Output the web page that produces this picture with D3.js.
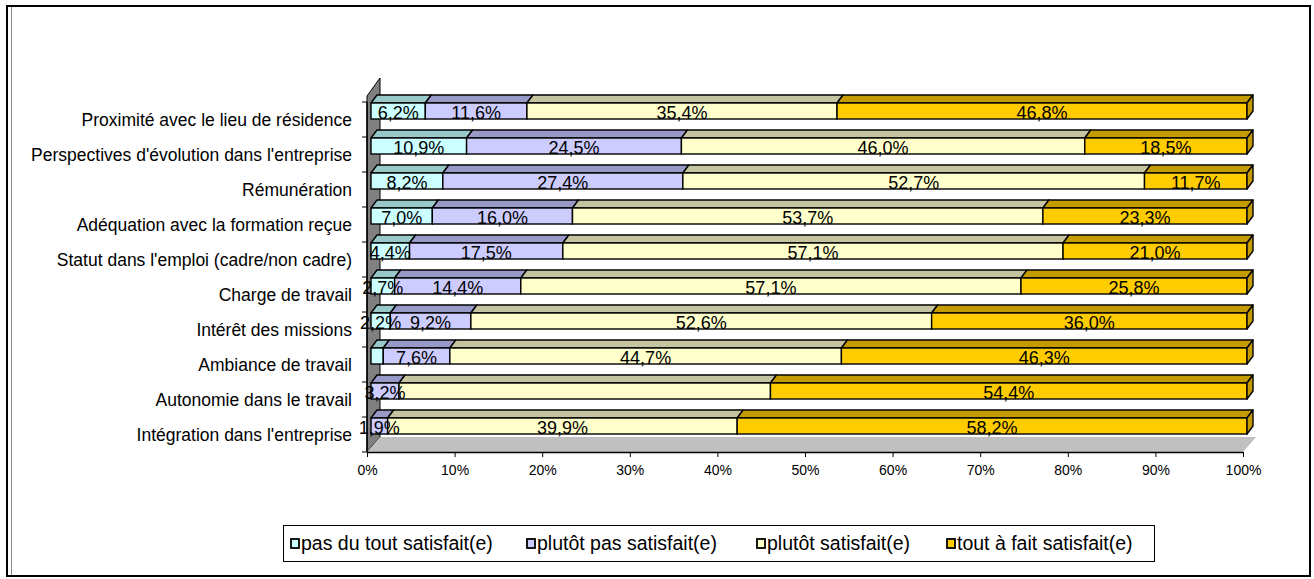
<!DOCTYPE html>
<html>
<head>
<meta charset="utf-8">
<script src="https://cdnjs.cloudflare.com/ajax/libs/d3/7.8.5/d3.min.js"></script>
<style>
  body { margin: 0; background: #fff; }
  svg text { font-family: "Liberation Sans", Arial, sans-serif; fill: #000; }
</style>
</head>
<body>
<script>
// categories, top to bottom
const categories = [
  "Proximité avec le lieu de résidence",
  "Perspectives d'évolution dans l'entreprise",
  "Rémunération",
  "Adéquation avec la formation reçue",
  "Statut dans l'emploi (cadre/non cadre)",
  "Charge de travail",
  "Intérêt des missions",
  "Ambiance de travail",
  "Autonomie dans le travail",
  "Intégration dans l'entreprise"
];
const seriesNames = ["pas du tout satisfait(e)", "plutôt pas satisfait(e)", "plutôt satisfait(e)", "tout à fait satisfait(e)"];

// percentages per series
const pasDuTout = [6.2, 10.9, 8.2, 7.0, 4.4, 2.7, 2.2, 1.4, 0, 0];
const plutotPas = [11.6, 24.5, 27.4, 16.0, 17.5, 14.4, 9.2, 7.6, 3.2, 1.9];
const plutotSat = [35.4, 46.0, 52.7, 53.7, 57.1, 57.1, 52.6, 44.7, 42.4, 39.9];
const toutAFait = [46.8, 18.5, 11.7, 23.3, 21.0, 25.8, 36.0, 46.3, 54.4, 58.2];

// labels that the original does not show: [category index, series index]
const hiddenLabels = [[7, 0], [8, 2]];

const xTicks = [0, 0.1, 0.2, 0.3, 0.4, 0.5, 0.6, 0.7, 0.8, 0.9, 1];

const frontColors = ["#CCFFFF", "#CCCCFF", "#FFFFCC", "#FFCC00"];
const topColors = ["#99C8C8", "#9999C8", "#C4C4A0", "#C49C00"];

const W = 1314, H = 579;
const svg = d3.select("body").append("svg").attr("width", W).attr("height", H);

// chart frame
svg.append("rect").attr("x", 7).attr("y", 6).attr("width", 1303).attr("height", 570)
  .attr("fill", "#fff").attr("stroke", "#000").attr("stroke-width", 2);
svg.append("line").attr("x1", 11.5).attr("x2", 11.5).attr("y1", 7).attr("y2", 575)
  .attr("stroke", "#888").attr("stroke-width", 1);

const table = categories.map((c, i) => ({
  cat: c, s0: pasDuTout[i], s1: plutotPas[i], s2: plutotSat[i], s3: toutAFait[i]
}));
const stack = d3.stack().keys(["s0", "s1", "s2", "s3"]).offset(d3.stackOffsetExpand);
const stacked = stack(table);

const x = d3.scaleLinear().domain([0, 1]).range([367, 1243]);
const y = d3.scaleBand().domain(categories).range([102, 452]);

const wallD = { x: 13, y: -15 };   // depth of wall / floor
const barD = { x: 6, y: -8 };      // depth of bars
const barOff = 4;                  // bars sit slightly behind the front axis
const barTop = 1, barH = 16;

// side wall
const wx = x(0);
svg.append("polygon")
  .attr("points", [[wx, 452], [wx, 96], [wx + wallD.x, 78], [wx + wallD.x, 452 + wallD.y]].join(" "))
  .attr("fill", "#808080").attr("stroke", "#000").attr("stroke-width", 1);

// floor
svg.append("polygon")
  .attr("points", [[x(0), 452], [x(1), 452], [x(1) + wallD.x, 452 + wallD.y], [x(0) + wallD.x, 452 + wallD.y]].join(" "))
  .attr("fill", "#C0C0C0");

// bars
const g = svg.append("g");
stacked.forEach((layer, si) => {
  layer.forEach((d, ci) => {
    if (d[1] - d[0] <= 0) return;
    const x0 = x(d[0]) + barOff, x1 = x(d[1]) + barOff;
    const t = y(categories[ci]) + barTop, b = t + barH;
    g.append("polygon")
      .attr("points", [[x0, t], [x0 + barD.x, t + barD.y], [x1 + barD.x, t + barD.y], [x1, t]].join(" "))
      .attr("fill", topColors[si]).attr("stroke", "#000").attr("stroke-width", 1.4).attr("stroke-linejoin", "round");
    g.append("rect")
      .attr("x", x0).attr("y", t).attr("width", x1 - x0).attr("height", barH)
      .attr("fill", frontColors[si]).attr("stroke", "#000").attr("stroke-width", 1.4);
    if (si === 3) {
      g.append("polygon")
        .attr("points", [[x1, t], [x1 + barD.x, t + barD.y], [x1 + barD.x, b + barD.y], [x1, b]].join(" "))
        .attr("fill", topColors[si]).attr("stroke", "#000").attr("stroke-width", 1.4).attr("stroke-linejoin", "round");
    }
  });
});

// x axis
const xAxis = d3.axisBottom(x).tickValues(xTicks).tickFormat(d3.format(".0%")).tickSize(5).tickSizeOuter(0);
const xg = svg.append("g").attr("transform", "translate(0,452)").call(xAxis);
xg.select(".domain").attr("stroke", "#000").attr("stroke-width", 1.5);
xg.selectAll(".tick line").attr("stroke", "#000");
xg.selectAll(".tick text").attr("font-size", 14).attr("font-family", "Liberation Sans").attr("dy", "1.05em");

// category axis (ticks between categories)
const yg = svg.append("g");
yg.append("line").attr("x1", wx).attr("x2", wx).attr("y1", 102).attr("y2", 452).attr("stroke", "#000").attr("stroke-width", 1.5);
categories.concat([null]).forEach((c, i) => {
  const yy = c === null ? 452 : y(c);
  yg.append("line").attr("x1", wx - 5).attr("x2", wx).attr("y1", yy).attr("y2", yy).attr("stroke", "#000");
});
yg.selectAll("text.cat").data(categories).enter().append("text")
  .attr("class", "cat")
  .attr("x", 352)
  .attr("y", d => y(d) + y.bandwidth() / 2)
  .attr("dy", "0.35em")
  .attr("text-anchor", "end")
  .attr("font-size", 17.5)
  .text(d => d);

// data labels
const fmt = v => v.toFixed(1).replace(".", ",") + "%";
const raw = [pasDuTout, plutotPas, plutotSat, toutAFait];
const lg = svg.append("g");
stacked.forEach((layer, si) => {
  layer.forEach((d, ci) => {
    if (raw[si][ci] <= 0) return;
    if (hiddenLabels.some(h => h[0] === ci && h[1] === si)) return;
    lg.append("text")
      .attr("x", x((d[0] + d[1]) / 2) + barOff)
      .attr("y", y(categories[ci]) + barTop + barH)
      .attr("text-anchor", "middle")
      .attr("font-size", 18)
      .text(fmt(raw[si][ci]));
  });
});

// legend
const leg = svg.append("g");
leg.append("rect").attr("x", 283.5).attr("y", 525.5).attr("width", 871).attr("height", 36)
  .attr("fill", "#fff").attr("stroke", "#000").attr("stroke-width", 1);
const legX = [291, 527, 757, 947];
seriesNames.forEach((n, i) => {
  leg.append("rect").attr("x", legX[i]).attr("y", 539).attr("width", 8).attr("height", 9)
    .attr("fill", frontColors[i]).attr("stroke", "#000").attr("stroke-width", 1.8);
  leg.append("text").attr("x", legX[i] + 10).attr("y", 543.5).attr("dy", "0.35em")
    .attr("font-size", 19.5).text(n);
});
</script>
</body>
</html>
